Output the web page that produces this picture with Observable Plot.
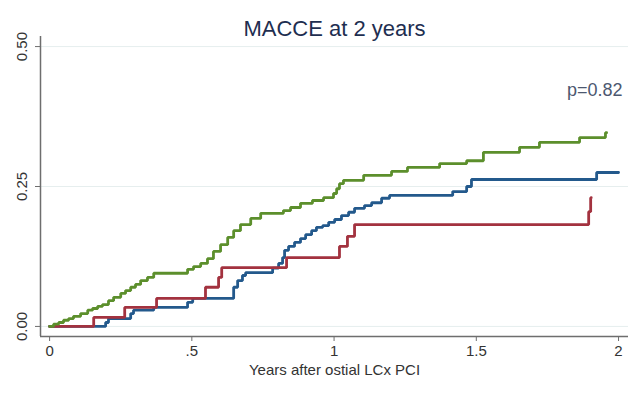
<!DOCTYPE html>
<html><head><meta charset="utf-8">
<script src="https://cdn.jsdelivr.net/npm/d3@7"></script>
<script src="https://cdn.jsdelivr.net/npm/@observablehq/plot@0.6"></script>
<style>html,body{margin:0;padding:0;background:#fff}#chart{width:636px;height:394px}</style>
</head><body><div id="chart"></div>
<script>
const title = "MACCE at 2 years";
const pLabel = "p=0.82";
const xLabel = "Years after ostial LCx PCI";
const xTicks = [0, 0.5, 1, 1.5, 2];
const xTickLabels = ["0", ".5", "1", "1.5", "2"];
const yTicks = [0, 0.25, 0.5];
const yTickLabels = ["0.00", "0.25", "0.50"];

// Green series (cumulative incidence), step times and values
const greenTime = [0, 0.014, 0.032, 0.049, 0.067, 0.084, 0.109, 0.134, 0.151, 0.169, 0.186, 0.207, 0.225, 0.250, 0.267, 0.285, 0.302, 0.320, 0.344, 0.366, 0.485, 0.506, 0.531, 0.555, 0.576, 0.601, 0.626, 0.647, 0.671, 0.707, 0.742, 0.822, 0.847, 0.882, 0.924, 0.963, 0.998, 1.009, 1.019, 1.033, 1.104, 1.202, 1.258, 1.371, 1.466, 1.525, 1.652, 1.722, 1.863, 1.954, 1.958];
const greenValue = [0, 0.004, 0.007, 0.011, 0.014, 0.018, 0.023, 0.029, 0.032, 0.036, 0.039, 0.046, 0.052, 0.059, 0.064, 0.070, 0.075, 0.082, 0.0875, 0.095, 0.102, 0.107, 0.1125, 0.121, 0.134, 0.146, 0.159, 0.171, 0.182, 0.193, 0.202, 0.207, 0.2125, 0.220, 0.225, 0.230, 0.2375, 0.246, 0.255, 0.261, 0.270, 0.277, 0.284, 0.291, 0.296, 0.311, 0.320, 0.329, 0.3375, 0.346, 0.346];

// Blue series
const blueTime = [0, 0.197, 0.207, 0.285, 0.295, 0.366, 0.485, 0.503, 0.647, 0.661, 0.678, 0.689, 0.784, 0.805, 0.819, 0.826, 0.840, 0.861, 0.882, 0.900, 0.921, 0.938, 0.960, 0.981, 1.002, 1.026, 1.051, 1.072, 1.107, 1.132, 1.167, 1.195, 1.417, 1.466, 1.483, 1.923, 2.0];
const blueValue = [0, 0.007, 0.014, 0.023, 0.029, 0.034, 0.043, 0.050, 0.070, 0.082, 0.091, 0.096, 0.104, 0.1125, 0.123, 0.136, 0.143, 0.150, 0.157, 0.164, 0.171, 0.177, 0.180, 0.186, 0.191, 0.198, 0.204, 0.211, 0.216, 0.221, 0.229, 0.234, 0.241, 0.250, 0.2625, 0.275, 0.275];

// Red series
const redTime = [0, 0.155, 0.264, 0.376, 0.548, 0.594, 0.605, 0.833, 1.019, 1.047, 1.072, 1.895, 1.902, 1.904];
const redValue = [0, 0.016, 0.034, 0.050, 0.070, 0.0875, 0.105, 0.123, 0.143, 0.161, 0.182, 0.205, 0.230, 0.230];

const seriesNames = ["Group 1", "Group 2", "Group 3"];
const seriesColors = ["#23598c", "#a3323f", "#5c8f2c"];

const rows = [];
blueTime.forEach((t, i) => rows.push({series: seriesNames[0], t, v: blueValue[i]}));
redTime.forEach((t, i) => rows.push({series: seriesNames[1], t, v: redValue[i]}));
greenTime.forEach((t, i) => rows.push({series: seriesNames[2], t, v: greenValue[i]}));

const font = "'Liberation Sans', Arial, Helvetica, sans-serif";
const axisColor = "#6e6e6e";
const textColor = "#333333";

const chart = Plot.plot({
  width: 636,
  height: 394,
  marginLeft: 40,
  marginRight: 8,
  marginTop: 36,
  marginBottom: 58,
  style: {fontFamily: font, fontSize: "14px", background: "#ffffff", color: textColor},
  x: {domain: [-0.032, 2.035]},
  y: {domain: [-0.018, 0.518]},
  color: {domain: seriesNames, range: seriesColors},
  marks: [
    Plot.ruleY(yTicks, {stroke: "#e6eeee", strokeWidth: 1}),
    Plot.ruleX([-0.032], {stroke: axisColor, strokeWidth: 1.5}),
    Plot.ruleY([-0.018], {stroke: axisColor, strokeWidth: 1.5}),
    Plot.axisY({ticks: yTicks, tickSize: 5, tickPadding: 9, tickRotate: -90, label: null,
      tickFormat: d => yTickLabels[yTicks.indexOf(d)], stroke: axisColor, fill: textColor, fontSize: 15}),
    Plot.axisX({ticks: xTicks, tickSize: 5, tickPadding: 4, label: null,
      tickFormat: d => xTickLabels[xTicks.indexOf(d)], stroke: axisColor, fill: textColor, fontSize: 15}),
    Plot.line(rows, {x: "t", y: "v", z: "series", stroke: "series", curve: "step-after", strokeWidth: 2.8, strokeLinejoin: "miter"}),
    Plot.text([title], {text: d => d, frameAnchor: "top", dy: -16, fontSize: 22, fill: "#1e2e50"}),
    Plot.text([pLabel], {text: d => d, frameAnchor: "top-right", dx: -6, dy: 47, textAnchor: "end", fontSize: 18, fill: "#4c5870"}),
    Plot.text([xLabel], {text: d => d, frameAnchor: "bottom", dy: 38, fontSize: 15, fill: textColor})
  ]
});
document.getElementById("chart").appendChild(chart);
</script>
</body></html>
